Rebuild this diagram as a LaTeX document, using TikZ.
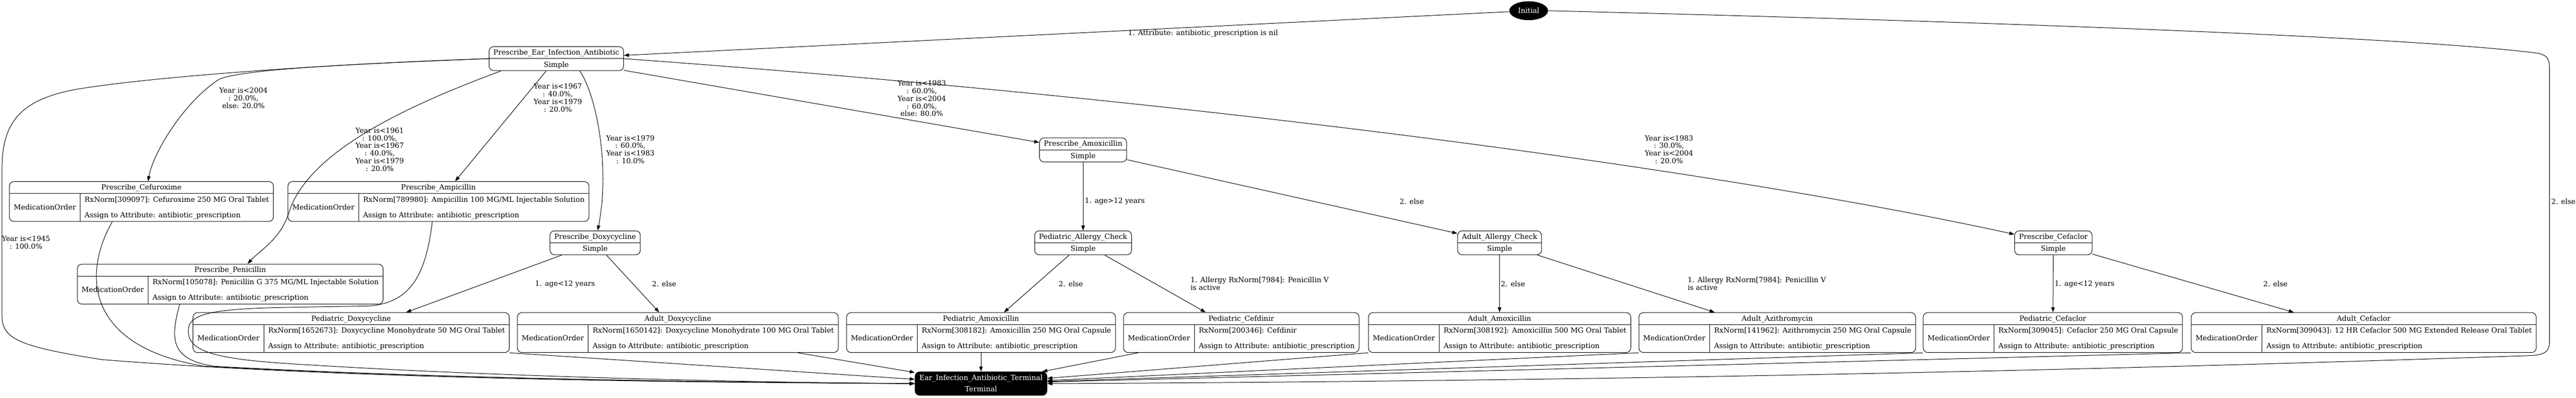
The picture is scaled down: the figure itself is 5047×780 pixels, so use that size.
\documentclass[tikz,border=0pt]{standalone}
\usepackage{fontspec}
\setmainfont{DejaVu Serif}
\usepackage{tikz}
\usetikzlibrary{arrows.meta, shapes.geometric}

\setlength{\tabcolsep}{8.5pt}
\setlength{\arrayrulewidth}{1pt}
\newcommand{\rowstrut}{\rule[-7pt]{0pt}{23pt}}
\newcommand{\simplestate}[1]{\begin{tabular}{c}\rowstrut #1\\ \hline \rowstrut Simple\end{tabular}}
\newcommand{\medorder}[2]{\begin{tabular}{c|l}
	\multicolumn{2}{c}{\rowstrut #1}\\ \hline
	\rule{0pt}{16pt} & #2\\
	MedicationOrder & \\
	& \rule[-8pt]{0pt}{8pt}Assign to Attribute: antibiotic\_prescription
\end{tabular}}

\begin{document}
\begin{tikzpicture}[x=1pt, y=-1pt, >={Triangle[length=10pt,width=7pt]}, line width=1pt, font=\fontsize{14}{15}\selectfont]
			\tikzstyle{statebox}=[draw, rounded corners=9pt, inner sep=0pt]
			\tikzstyle{termbox}=[statebox, fill=black, text=white]
			\tikzstyle{initnode}=[ellipse, fill=black, text=white, minimum width=76pt, minimum height=37pt, inner sep=0pt]
			\tikzstyle{lbl}=[align=center, inner sep=0pt]
			\useasboundingbox (0,0) rectangle (5047,780);
			\node[initnode](init) at (2995,21) {Initial};
			\node[statebox](ear) at (1090,115) {\simplestate{Prescribe\_Ear\_Infection\_Antibiotic}};
			\node[statebox](cefur) at (277,395) {\medorder{Prescribe\_Cefuroxime}{RxNorm[309097]: Cefuroxime 250 MG Oral Tablet}};
			\node[statebox](ampi) at (859,395) {\medorder{Prescribe\_Ampicillin}{RxNorm[789980]: Ampicillin 100 MG/ML Injectable Solution}};
			\node[statebox](peni) at (451,557) {\medorder{Prescribe\_Penicillin}{RxNorm[105078]: Penicillin G 375 MG/ML Injectable Solution}};
			\node[statebox](doxy) at (1166,476) {\simplestate{Prescribe\_Doxycycline}};
			\node[statebox](amox) at (2122,294) {\simplestate{Prescribe\_Amoxicillin}};
			\node[statebox](cefa) at (4023,476) {\simplestate{Prescribe\_Cefaclor}};
			\node[statebox](pedall) at (2122,476) {\simplestate{Pediatric\_Allergy\_Check}};
			\node[statebox](adall) at (2938,476) {\simplestate{Adult\_Allergy\_Check}};
			\node[statebox](peddoxy) at (688,652) {\medorder{Pediatric\_Doxycycline}{RxNorm[1652673]: Doxycycline Monohydrate 50 MG Oral Tablet}};
			\node[statebox](addoxy) at (1328,652) {\medorder{Adult\_Doxycycline}{RxNorm[1650142]: Doxycycline Monohydrate 100 MG Oral Tablet}};
			\node[statebox](pedamox) at (1922,652) {\medorder{Pediatric\_Amoxicillin}{RxNorm[308182]: Amoxicillin 250 MG Oral Capsule}};
			\node[statebox](pedcefd) at (2432,652) {\medorder{Pediatric\_Cefdinir}{RxNorm[200346]: Cefdinir}};
			\node[statebox](adamox) at (2938,652) {\medorder{Adult\_Amoxicillin}{RxNorm[308192]: Amoxicillin 500 MG Oral Tablet}};
			\node[statebox](adazi) at (3482,652) {\medorder{Adult\_Azithromycin}{RxNorm[141962]: Azithromycin 250 MG Oral Capsule}};
			\node[statebox](pedcefa) at (4022,652) {\medorder{Pediatric\_Cefaclor}{RxNorm[309045]: Cefaclor 250 MG Oral Capsule}};
			\node[statebox](adcefa) at (4631,652) {\medorder{Adult\_Cefaclor}{RxNorm[309043]: 12 HR Cefaclor 500 MG Extended Release Oral Tablet}};
			\node[termbox](term) at (1922,752) {\begin{tabular}{c}\rowstrut Ear\_Infection\_Antibiotic\_Terminal\\ \rowstrut Terminal\end{tabular}};
			% straight transitions
			\path[->]
				(init) edge (ear)
				(ear) edge (ampi)
				(ear) edge (amox)
				(amox) edge (pedall)
				(amox) edge (adall)
				(pedall) edge (pedamox)
				(pedall) edge (pedcefd)
				(adall) edge (adamox)
				(adall) edge (adazi)
				(doxy) edge (peddoxy)
				(doxy) edge (addoxy)
				(cefa) edge (pedcefa)
				(cefa) edge (adcefa)
				(pedamox) edge (term)
				(addoxy) edge (term)
				(pedcefd) edge (term)
				(peddoxy.south east) edge (term)
				(adamox.south west) edge (term)
				(adazi.south west) edge (term)
				(pedcefa.south west) edge (term)
				(adcefa.south west) edge (term);
			% curved transitions
			\draw[->] (ear.west) .. controls (700,125) and (480,135) .. (430,155) .. controls (360,200) and (300,300) .. ([xshift=13pt]cefur.north);
			\draw[->] (ear.west) .. controls (650,125) and (300,150) .. (150,175) .. controls (40,195) and (4,240) .. (4,330) -- (4,620) .. controls (4,665) and (40,680) .. (200,705) .. controls (700,745) and (1400,750) .. (term.west);
			\draw[->] ([xshift=24pt]ear.south west) .. controls (790,210) and (600,300) .. (565,420) .. controls (548,470) and (510,490) .. ([xshift=34pt]peni.north);
			\draw[->] ([xshift=46pt]ear.south) .. controls (1170,190) and (1195,330) .. ([xshift=5pt]doxy.north);
			\draw[->] (ear.east) .. controls (2400,200) and (3400,340) .. (cefa);
			\draw[->] (init.east) .. controls (3800,40) and (4700,70) .. (4970,104) .. controls (4995,108) and (4995,120) .. (4995,140) -- (4995,670) .. controls (4995,690) and (4985,695) .. (4960,697) .. controls (4000,730) and (3000,748) .. (term.east);
			\draw[->] ([xshift=-57pt]cefur.south) .. controls (160,540) and (170,680) .. (400,718) .. controls (900,745) and (1500,750) .. (term.west);
			\draw[->] ([xshift=-99pt]peni.south) .. controls (335,660) and (330,705) .. (420,718) .. controls (900,745) and (1500,750) .. (term.west);
			\draw[->] ([xshift=-12pt]ampi.south) .. controls (835,530) and (810,595) .. (720,600) .. controls (500,604) and (380,600) .. (370,640) .. controls (360,690) and (420,705) .. (600,715) .. controls (1000,740) and (1500,750) .. (term.west);
			% transition labels
			\node[lbl](lnil) at (2357,65) {1. Attribute: antibiotic\_prescription is nil};
			\node[lbl](lcefur) at (477,192) {Year is<2004\\: 20.0\%,\\else: 20.0\%};
			\node[lbl](lpeni) at (744,293) {Year is<1961\\: 100.0\%,\\Year is<1967\\: 40.0\%,\\Year is<1979\\: 20.0\%};
			\node[lbl](lampi) at (1093,192) {Year is<1967\\: 40.0\%,\\Year is<1979\\: 20.0\%};
			\node[lbl](ldoxy) at (1235,293) {Year is<1979\\: 60.0\%,\\Year is<1983\\: 10.0\%};
			\node[lbl](lamox) at (1806,193) {Year is<1983\\: 60.0\%,\\Year is<2004\\: 60.0\%,\\else: 80.0\%};
			\node[lbl](lcefa) at (3270,293) {Year is<1983\\: 30.0\%,\\Year is<2004\\: 20.0\%};
			\node[lbl](lold) at (51,475) {Year is<1945\\: 100.0\%};
			\node[lbl, anchor=west](lelse) at (4998,395) {2. else};
			\node[lbl, anchor=west](lpedall) at (2125,395) {1. age>12 years};
			\node[lbl](ladall) at (2766,395) {2. else};
			\node[lbl](lpa1) at (2098,556) {2. else};
			\node[lbl, anchor=west, align=left](lpa2) at (2332,556) {1. Allergy RxNorm[7984]: Penicillin V\\is active};
			\node[lbl, anchor=west](laa1) at (2940,556) {2. else};
			\node[lbl, anchor=west, align=left](laa2) at (3306,556) {1. Allergy RxNorm[7984]: Penicillin V\\is active};
			\node[lbl](ldx1) at (1107,557) {1. age<12 years};
			\node[lbl, anchor=west](ldx2) at (1277,557) {2. else};
			\node[lbl, anchor=west](lcf1) at (4025,557) {1. age<12 years};
			\node[lbl](lcf2) at (4458,557) {2. else};
		\end{tikzpicture}
\end{document}
